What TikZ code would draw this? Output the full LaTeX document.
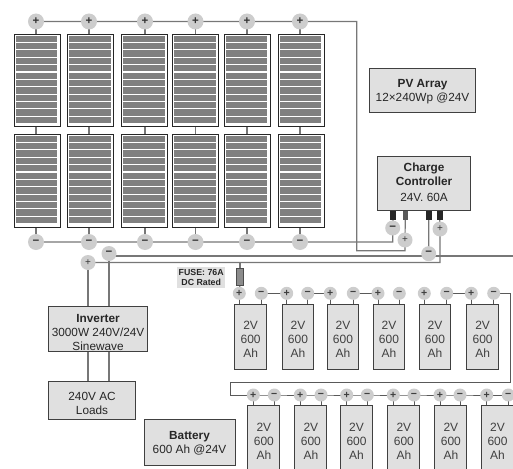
\documentclass[tikz,border=0pt]{standalone}
\usepackage{fontspec}
\setmainfont{Liberation Sans}
\usetikzlibrary{backgrounds}
\definecolor{boxfill}{HTML}{E0E0E0}
\definecolor{termfill}{HTML}{CDCDCD}
\definecolor{wirecol}{HTML}{777777}
\definecolor{bordercol}{HTML}{404040}
\definecolor{barcol}{HTML}{808080}
\newcommand{\lift}[1]{\rule{0pt}{#1pt}}
\tikzset{
  infobox/.style={draw=bordercol,line width=1.1pt,fill=boxfill,anchor=north west,align=center,inner sep=0pt,text=black!85,
    font=\fontsize{11.8}{14}\selectfont},
  cellbox/.style={infobox,font=\fontsize{12}{14}\selectfont,text=black!75},
  panelbox/.style={draw=black!85,line width=1.1pt,fill=white,anchor=north west,inner sep=0pt,minimum width=46pt},
  bigterm/.style={circle,draw=none,fill=termfill,minimum size=16pt,inner sep=0pt,text=black!80,font=\fontsize{11.5}{11.5}\selectfont\bfseries},
  ctrlterm/.style={bigterm,minimum size=15pt},
  ctrlplus/.style={ctrlterm,font=\fontsize{10}{10}\selectfont},
  smallterm/.style={circle,draw=none,fill=termfill,minimum size=13pt,inner sep=0pt,text=black!75,font=\fontsize{10.5}{10.5}\selectfont\bfseries},
  wire/.style={draw=wirecol,line width=1.2pt},
  darkwire/.style={draw=black!65,line width=1pt},
  lug/.style={anchor=north west,inner sep=0pt,minimum width=5.5pt,minimum height=8.5pt,fill=black!85},
  lugg/.style={lug,fill=black!65},
}
\begin{document}
\begin{tikzpicture}[x=1pt,y=-1pt]
\useasboundingbox (0,0) rectangle (513,468);
\clip (0,0) rectangle (513,468);
% PV panels
\foreach \i/\x/\tx in {1/13.7/36,2/67/89,3/121/145,4/172/195.5,5/223.5/247,6/277.5/300}{
  \node[panelbox,minimum height=92pt] (pt\i) at (\x,34) {};
  \node[panelbox,minimum height=93pt] (pb\i) at (\x,134) {};
  \foreach \k in {0,...,11}{
    \fill[barcol] (\x+2.3,35.7+\k*7.37) rectangle (\x+43.7,42+\k*7.37);
    \fill[barcol] (\x+2.3,135.7+\k*7.37) rectangle (\x+43.7,142+\k*7.37);
  }
  \node[bigterm] (pp\i) at (\tx,21.5) {+};
  \node[bigterm] (pm\i) at (\tx,242) {−};
}
% Info boxes
\node[infobox,minimum width=106pt,minimum height=44pt] (pvinfo) at (369,68) {\lift{10.4}\textbf{PV Array}\\12×240Wp @24V};
\node[infobox,minimum width=93pt,minimum height=54pt] (ctrl) at (377,156) {\textbf{Charge}\\\textbf{Controller}\\[2pt]24V. 60A\rule[-2pt]{0pt}{2pt}};
\node[infobox,minimum width=99pt,minimum height=45pt] (inv) at (48,306) {\lift{14.4}\textbf{Inverter}\\3000W 240V/24V\\Sinewave};
\node[infobox,minimum width=87pt,minimum height=38pt] (loads) at (48,381) {\lift{14.4}240V AC\\Loads};
\node[infobox,minimum width=91pt,minimum height=46pt] (batinfo) at (143.5,418.5) {\lift{11.4}\textbf{Battery}\\600 Ah @24V};
% Controller lugs
\node[lug] (lug1) at (390,211) {};
\node[lugg] (lug2) at (402.3,211) {};
\node[lug] (lug3) at (425.8,211) {};
\node[lug] (lug4) at (436.8,211) {};
% Controller terminals
\node[ctrlterm] (cm1) at (392.7,228) {−};
\node[ctrlplus] (cp1) at (405,240) {+};
\node[ctrlterm] (cm2) at (428.7,253.7) {−};
\node[ctrlplus] (cp2) at (440,229) {+};
\node[ctrlterm] (im) at (109,253.5) {−};
\node[ctrlplus] (ip) at (88,262.5) {+};
% Fuse
\node[draw=black!70,fill=black!45,line width=0.8pt,anchor=north west,inner sep=0pt,minimum width=7pt,minimum height=16.5pt] (fuse) at (236,268) {};
\node[fill=boxfill,anchor=north west,inner sep=0pt,minimum width=48pt,minimum height=21pt,align=center,text=black!85,
  font=\fontsize{8.8}{10.5}\selectfont\bfseries] (fuselabel) at (177,267) {FUSE: 76A\\DC Rated};
% Batteries row 1
\foreach \i/\x/\pp/\mm in {1/234.3/239.3/261.3,2/281.7/286.7/307.7,3/326.7/330.3/353.3,4/372.7/378/399.3,5/418.7/424.3/446.7,6/466.3/471.3/493.7}{
  \node[cellbox,minimum width=31.5pt,minimum height=65pt] (ba\i) at (\x,304.3) {\lift{13}2V\\600\\Ah};
  \node[smallterm] (bap\i) at (\pp,293.3) {+};
  \node[smallterm] (bam\i) at (\mm,293.3) {−};
}
% Batteries row 2
\foreach \i/\x/\pp/\mm in {1/247.3/253.3/274.3,2/294.3/300.3/321,3/340/346.7/367.3,4/387.3/393.3/414,5/434.3/440/460,6/481/486.7/508.3}{
  \node[cellbox,minimum width=32pt,minimum height=70pt] (bb\i) at (\x,405.3) {2V\\600\\Ah};
  \node[smallterm] (bbp\i) at (\pp,395) {+};
  \node[smallterm] (bbm\i) at (\mm,395) {−};
}
\coordinate (edgeR) at (513,256);
\coordinate (turnR) at (510.7,382.7);
\coordinate (turnL) at (230,382.7);
\coordinate (bus) at (356.7,250.7);
\begin{scope}[on background layer]
  % PV wiring
  \foreach \i in {1,...,6}{
    \draw[wire] (pp\i.center) -- (pp\i.center |- pt\i.north);
    \draw[wire] (pt\i.south -| pp\i.center) -- (pb\i.north -| pp\i.center);
    \draw[wire] (pb\i.south -| pm\i.center) -- (pm\i.center);
  }
  \draw[wire] (pp1.center) -- (pp2.center) -- (pp3.center) -- (pp4.center) -- (pp5.center) -- (pp6.center) -- (356.7,21.5) -- (bus) -- (bus -| cp1) -- (cp1.center) -- (lug2.south);
  \draw[wire] (pm1.center) -- (pm2.center) -- (pm3.center) -- (pm4.center) -- (pm5.center) -- (pm6.center) -- (pm6.center -| cm1) -- (cm1.center) -- (lug1.south);
  % Battery buses
  \draw[wire] (lug3.south) -- (cm2.center);
  \draw[wire] (im.center) -- (im.center |- edgeR) -- (edgeR);
  \draw[wire] (ip.center) -- (ip.center -| cp2) -- (cp2.center) -- (lug4.south);
  \draw[wire] (ip.center) -- (ip.center |- inv.north);
  \draw[wire] (im.center) -- (im.center |- inv.north);
  \draw[wire] (inv.south -| ip) -- (loads.north -| ip);
  \draw[wire] (inv.south -| im) -- (loads.north -| im);
  \draw[wire] (fuse.north) -- (fuse.north |- ip.center);
  \draw[wire] (fuse.south) -- (bap1.center);
  % Battery terminals
  \foreach \i in {1,...,6}{
    \draw[darkwire] (bap\i.center) -- (bap\i.center |- ba\i.north);
    \draw[darkwire] (bam\i.center) -- (bam\i.center |- ba\i.north);
    \draw[darkwire] (bbp\i.center) -- (bbp\i.center |- bb\i.north);
    \draw[darkwire] (bbm\i.center) -- (bbm\i.center |- bb\i.north);
  }
  \draw[darkwire] (bam1.center) -- (bap2.center);
  \draw[darkwire] (bam2.center) -- (bap3.center);
  \draw[darkwire] (bam3.center) -- (bap4.center);
  \draw[darkwire] (bam5.center) -- (bap6.center);
  \draw[darkwire] (bam6.center) -- (bam6.center -| turnR) -- (turnR) -- (turnL) -- (turnL |- bbp1.center) -- (bbp1.center);
  \foreach \i/\j in {1/2,2/3,3/4,4/5,5/6}{
    \draw[darkwire] (bbp\i.center) -- (bbm\i.center) -- (bbp\j.center);
  }
  \draw[darkwire] (bbp6.center) -- (bbm6.center);
\end{scope}
\end{tikzpicture}
\end{document}
